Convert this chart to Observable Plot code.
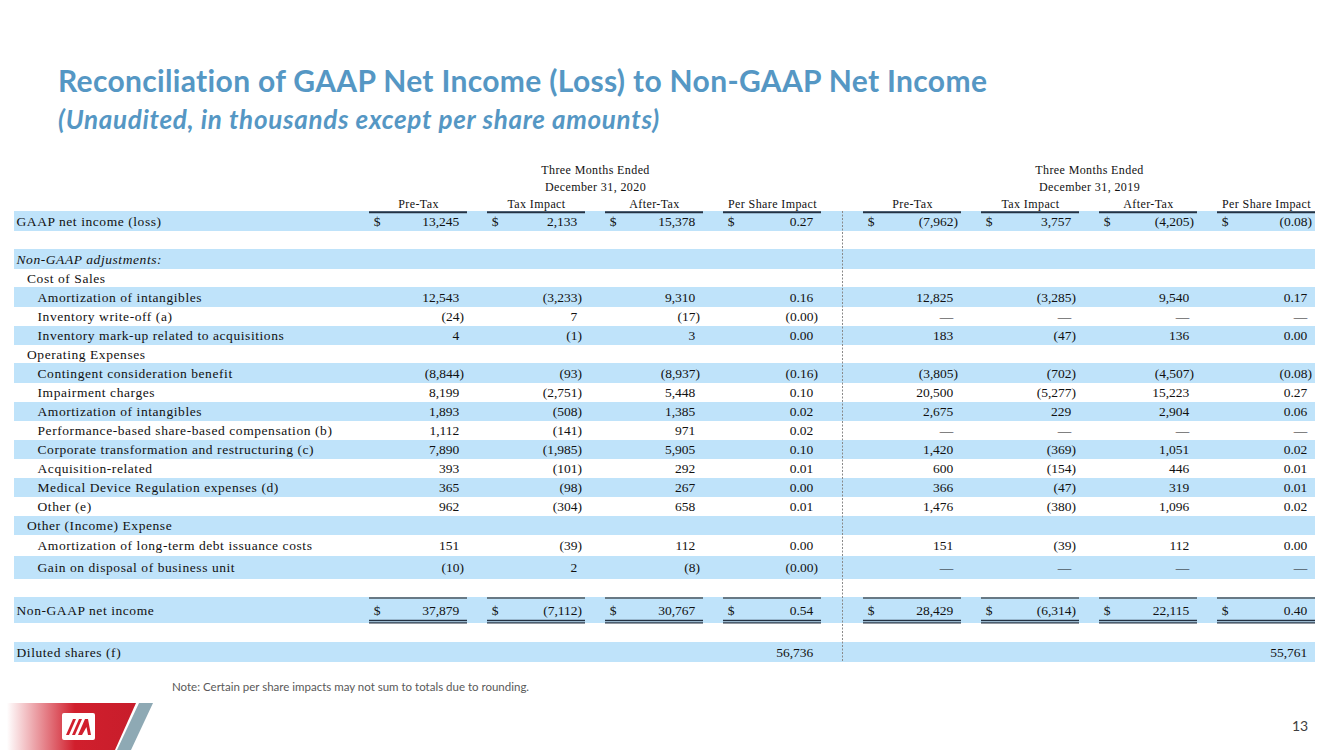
<!DOCTYPE html>
<html>
<head>
<meta charset="utf-8">
<script src="https://cdn.jsdelivr.net/npm/d3@7"></script>
<script src="https://cdn.jsdelivr.net/npm/@observablehq/plot@0.6"></script>
<style>
  html, body { margin: 0; padding: 0; background: #fff; }
  body { width: 1333px; height: 750px; position: relative; overflow: hidden; }
  #title { position: absolute; left: 58px; top: 65px; font-family: Lato, "Open Sans", sans-serif; font-weight: 700;
           font-size: 30px; letter-spacing: 0.33px; line-height: 1; color: #5597c4; white-space: nowrap; }
  #subtitle { position: absolute; left: 58px; top: 106px; font-family: Lato, "Open Sans", sans-serif; font-weight: 700;
              font-style: italic; font-size: 26px; letter-spacing: 0.7px; line-height: 1; color: #5597c4; white-space: nowrap; }
  #chart { position: absolute; left: 0; top: 0; }
  #note { position: absolute; left: 172px; top: 680px; font-family: Lato, "Open Sans", sans-serif; font-size: 11.5px;
          color: #595959; white-space: nowrap; }
  #page { position: absolute; left: 1292px; top: 717px; font-family: Lato, "Open Sans", sans-serif; font-size: 14px;
          color: #404040; }
  #logo { position: absolute; left: 0; top: 700px; }
</style>
</head>
<body>
<div id="chart"></div>
<div id="title">Reconciliation of GAAP Net Income (Loss) to Non-GAAP Net Income</div>
<div id="subtitle">(Unaudited, in thousands except per share amounts)</div>
<div id="note">Note: Certain per share impacts may not sum to totals due to rounding.</div>
<div id="page">13</div>
<svg id="logo" width="160" height="50" viewBox="0 0 160 50">
  <defs>
    <linearGradient id="redfade" x1="0" x2="1" y1="0" y2="0">
      <stop offset="0.05" stop-color="#ffffff"/>
      <stop offset="0.55" stop-color="#d11f2d"/>
      <stop offset="1" stop-color="#c71d2b"/>
    </linearGradient>
  </defs>
  <polygon points="0,3 136,3 115,50 0,50" fill="url(#redfade)"/>
  <polygon points="139,3 153,3 131,50 117,50" fill="#8ea9b4"/>
  <rect x="62" y="13" width="33" height="27" rx="2" fill="#ffffff"/>
  <polygon points="66,35 73,19 76,19 69,35" fill="#d11f2d"/>
  <polygon points="72,35 79,19 82,19 75,35" fill="#d11f2d"/>
  <polygon points="78,35 85,19 88,19 91,35 88,35 86.5,27 82,35" fill="#d11f2d"/>
</svg>
<script>
// ---------------- data ----------------
const D = "—";   // em dash shown in the table
const N = null;  // empty cell

const periodTitle = "Three Months Ended";
const periods = ["December 31, 2020", "December 31, 2019"];
const columnNames = ["Pre-Tax", "Tax Impact", "After-Tax", "Per Share Impact"];

const labels = [
  "GAAP net income (loss)",
  "",
  "Non-GAAP adjustments:",
  "Cost of Sales",
  "Amortization of intangibles",
  "Inventory write-off (a)",
  "Inventory mark-up related to acquisitions",
  "Operating Expenses",
  "Contingent consideration benefit",
  "Impairment charges",
  "Amortization of intangibles",
  "Performance-based share-based compensation (b)",
  "Corporate transformation and restructuring (c)",
  "Acquisition-related",
  "Medical Device Regulation expenses (d)",
  "Other (e)",
  "Other (Income) Expense",
  "Amortization of long-term debt issuance costs",
  "Gain on disposal of business unit",
  "",
  "Non-GAAP net income",
  "",
  "Diluted shares (f)"
];
// hierarchy level of each row label (0 = top, 1 = section, 2 = item)
const levels = [0,0,0,1,2,2,2,1,2,2,2,2,2,2,2,2,1,2,2,0,0,0,0];
const dollarRows = ["GAAP net income (loss)", "Non-GAAP net income"];
const italicRows = ["Non-GAAP adjustments:"];

const preTax2020    = [13245,N,N,N,12543,-24,4,N,-8844,8199,1893,1112,7890,393,365,962,N,151,-10,N,37879,N,N];
const taxImpact2020 = [2133,N,N,N,-3233,7,-1,N,-93,-2751,-508,-141,-1985,-101,-98,-304,N,-39,2,N,-7112,N,N];
const afterTax2020  = [15378,N,N,N,9310,-17,3,N,-8937,5448,1385,971,5905,292,267,658,N,112,-8,N,30767,N,N];
const perShare2020  = [0.27,N,N,N,0.16,-0,0.00,N,-0.16,0.10,0.02,0.02,0.10,0.01,0.00,0.01,N,0.00,-0,N,0.54,N,N];

const preTax2019    = [-7962,N,N,N,12825,D,183,N,-3805,20500,2675,D,1420,600,366,1476,N,151,D,N,28429,N,N];
const taxImpact2019 = [3757,N,N,N,-3285,D,-47,N,-702,-5277,229,D,-369,-154,-47,-380,N,-39,D,N,-6314,N,N];
const afterTax2019  = [-4205,N,N,N,9540,D,136,N,-4507,15223,2904,D,1051,446,319,1096,N,112,D,N,22115,N,N];
const perShare2019  = [-0.08,N,N,N,0.17,D,0.00,N,-0.08,0.27,0.06,D,0.02,0.01,0.01,0.02,N,0.00,D,N,0.40,N,N];

const dilutedShares = [56736, 55761];

// ---------------- layout ----------------
const W = 1333, H = 750;
const tableTop = 211;
const rowHeights = [20,18,20,18,20,19,19,18,20,19,19,19,19,19,19,19,19,21,23,18,26,19,20];
const rowTop = [];
{ let y = tableTop; for (const h of rowHeights) { rowTop.push(y); y += h; } }
const rowMid = rowTop.map((t, i) => t + rowHeights[i] / 2);
const tableBottom = rowTop[rowTop.length - 1] + rowHeights[rowHeights.length - 1];
const bandLeft = 14, bandRight = 1315;
const groupLeft = [369, 863], colPitch = 118, colW = 98;
const colX = (g, c) => groupLeft[g] + c * colPitch;
const labelX = lvl => 16 + lvl * 10.5;
const dividerX = 842;

const series = [
  [preTax2020, taxImpact2020, afterTax2020, perShare2020],
  [preTax2019, taxImpact2019, afterTax2019, perShare2019]
];
const fmtInt = d3.format(",");
const fmtPS = d3.format(".2f");
function fmtCell(v, isPS) {
  if (v === D) return {t: D, paren: false};
  const neg = v < 0 || Object.is(v, -0);
  const s = isPS ? fmtPS(Math.abs(v)) : fmtInt(Math.abs(v));
  return neg ? {t: "(" + s + ")", paren: true} : {t: s, paren: false};
}

// bands
const bands = labels.map((l, i) => ({i, top: rowTop[i], bottom: rowTop[i] + rowHeights[i]})).filter(d => d.i % 2 === 0);

// row labels
const labelCells = labels.map((l, i) => ({t: l, x: labelX(levels[i]), y: rowMid[i], italic: italicRows.includes(l)}))
  .filter(d => d.t !== "");

// value cells
const valueCells = [];
const dollarCells = [];
labels.forEach((l, i) => {
  for (let g = 0; g < 2; g++) {
    for (let c = 0; c < 4; c++) {
      const v = series[g][c][i];
      if (v === null || v === undefined) continue;
      const f = fmtCell(v, c === 3);
      valueCells.push({t: f.t, x: colX(g, c) + (f.paren ? 94.6 : 89.8), y: rowMid[i]});
      if (dollarRows.includes(l)) dollarCells.push({t: "$", x: colX(g, c) + 4.3, y: rowMid[i]});
    }
  }
});
const dilIdx = labels.indexOf("Diluted shares (f)");
dilutedShares.forEach((v, g) => valueCells.push({t: fmtInt(v), x: colX(g, 3) + 89.8, y: rowMid[dilIdx]}));

// headers
const headerCells = [];
periods.forEach((p, g) => {
  const cx = groupLeft[g] + (3 * colPitch + colW) / 2;
  headerCells.push({t: periodTitle, x: cx, y: 170});
  headerCells.push({t: p, x: cx, y: 187});
  columnNames.forEach((n, c) => headerCells.push({t: n, x: colX(g, c) + colW / 2, y: 204}));
});

// rules
const allCols = [];
for (let g = 0; g < 2; g++) for (let c = 0; c < 4; c++) allCols.push({x1: colX(g, c), x2: colX(g, c) + colW});
const nonGaapIdx = labels.indexOf("Non-GAAP net income");
const headerRules = allCols.map(d => ({...d, y: tableTop + 0.8}));
const singleRules = allCols.map(d => ({...d, y: rowTop[nonGaapIdx] + 0.5}));
const doubleRules = allCols.flatMap(d => [
  {...d, y: rowTop[nonGaapIdx] + rowHeights[nonGaapIdx] - 3},
  {...d, y: rowTop[nonGaapIdx] + rowHeights[nonGaapIdx] - 0.7}
]);

const serif = "'Liberation Serif', 'Times New Roman', serif";
const svg = Plot.plot({
  width: W, height: H,
  margin: 0,
  x: {domain: [0, W], range: [0, W], axis: null},
  y: {domain: [0, H], range: [0, H], axis: null},
  style: {background: "transparent", fontFamily: serif, color: "#111"},
  marks: [
    Plot.rect(bands, {x1: bandLeft, x2: bandRight, y1: "top", y2: "bottom", fill: "#bfe3fa"}),
    Plot.ruleX([dividerX], {y1: tableTop, y2: tableBottom, stroke: "#8a8a8a", strokeWidth: 1, strokeDasharray: "2,1.5"}),
    Plot.ruleY(headerRules, {y: "y", x1: "x1", x2: "x2", stroke: "#243243", strokeWidth: 2}),
    Plot.ruleY(singleRules, {y: "y", x1: "x1", x2: "x2", stroke: "#111", strokeWidth: 1}),
    Plot.ruleY(doubleRules, {y: "y", x1: "x1", x2: "x2", stroke: "#243243", strokeWidth: 1.3}),
    Plot.text(headerCells, {x: "x", y: "y", text: "t", textAnchor: "middle", fontSize: 12, fill: "#111", fontFamily: serif}),
    Plot.text(labelCells.filter(d => !d.italic), {x: "x", y: "y", text: "t", textAnchor: "start", fontSize: 13.5, fill: "#111", fontFamily: serif}),
    Plot.text(labelCells.filter(d => d.italic), {x: "x", y: "y", text: "t", textAnchor: "start", fontSize: 13.5, fontStyle: "italic", fill: "#111", fontFamily: serif}),
    Plot.text(valueCells, {x: "x", y: "y", text: "t", textAnchor: "end", fontSize: 13.5, fill: "#111", fontFamily: serif}),
    Plot.text(dollarCells, {x: "x", y: "y", text: "t", textAnchor: "start", fontSize: 13.5, fill: "#111", fontFamily: serif})
  ]
});
const headerSet = new Set([periodTitle, ...periods, ...columnNames]);
const labelSet = new Set(labels.filter(l => l !== ""));
d3.select(svg).selectAll("text").each(function() {
  const s = this.textContent;
  if (headerSet.has(s)) this.style.letterSpacing = "0.4px";
  else if (labelSet.has(s)) this.style.letterSpacing = "0.57px";
});
document.getElementById("chart").appendChild(svg);
</script>
</body>
</html>
